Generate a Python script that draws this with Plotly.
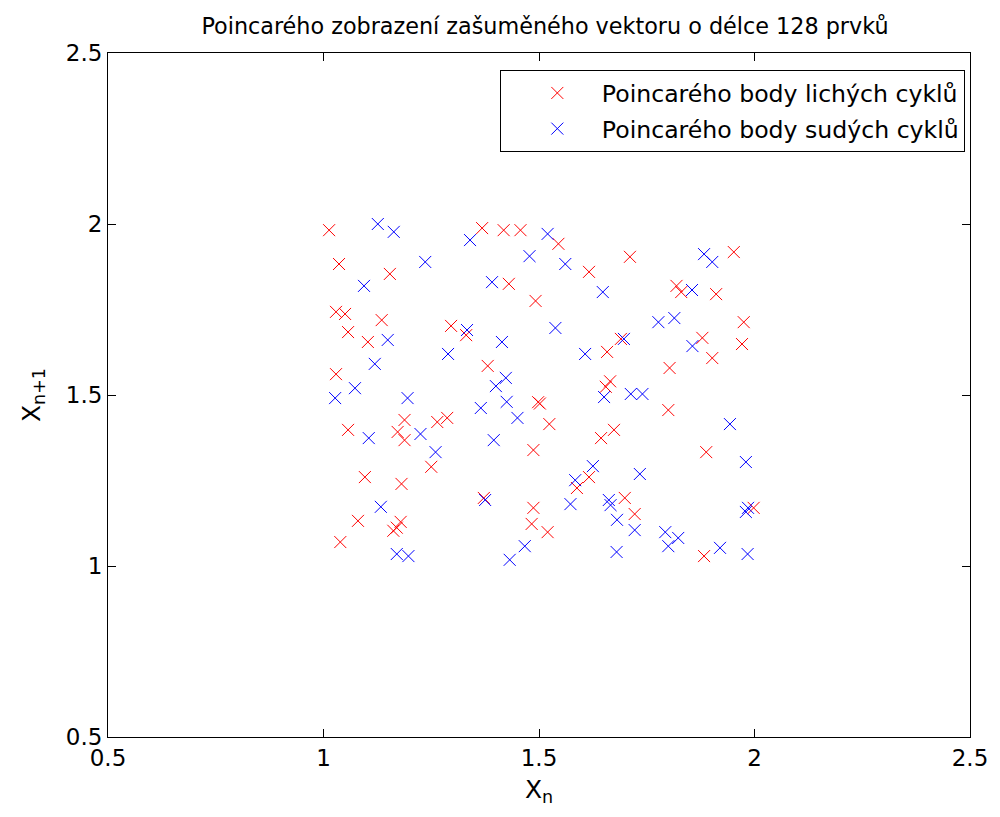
import plotly.graph_objects as go

# Poincaré points of the odd cycles (x_n, x_{n+1})
odd_x = [1.013, 1.036, 1.154, 1.029, 1.050, 1.135, 1.296, 1.368, 1.418, 1.457,
         1.545, 1.616, 1.430, 1.492, 1.711, 1.952, 1.819, 1.830, 1.911, 1.975,
         1.057, 1.103, 1.331, 1.029, 1.188, 1.264, 1.287, 1.057, 1.172, 1.188,
         1.658, 1.381, 1.665, 1.655, 1.498, 1.502, 1.524, 1.644, 1.674, 1.487,
         1.690, 1.879, 1.971, 1.902, 1.803, 1.800, 1.888, 1.250, 1.096, 1.181,
         1.080, 1.179, 1.162, 1.170, 1.039, 1.616, 1.588, 1.372, 1.487, 1.483,
         1.520, 1.699, 1.722, 1.883, 1.998]
odd_y = [1.982, 1.883, 1.854, 1.743, 1.737, 1.719, 1.702, 1.988, 1.982, 1.982,
         1.942, 1.860, 1.825, 1.775, 1.904, 1.918, 1.819, 1.801, 1.795, 1.713,
         1.684, 1.655, 1.675, 1.561, 1.427, 1.421, 1.433, 1.398, 1.392, 1.368,
         1.626, 1.585, 1.540, 1.524, 1.479, 1.475, 1.415, 1.374, 1.398, 1.339,
         1.664, 1.667, 1.649, 1.608, 1.579, 1.456, 1.333, 1.290, 1.260, 1.240,
         1.132, 1.129, 1.103, 1.112, 1.070, 1.260, 1.228, 1.199, 1.170, 1.123,
         1.099, 1.199, 1.152, 1.029, 1.170]

# Poincaré points of the even cycles
even_x = [1.126, 1.163, 1.236, 1.094, 1.340, 1.520, 1.478, 1.561, 1.391, 1.648,
          1.333, 1.538, 1.883, 1.902, 1.855, 1.777, 1.814, 1.149, 1.289, 1.119,
          1.073, 1.027, 1.195, 1.105, 1.225, 1.260, 1.414, 1.607, 1.423, 1.400,
          1.651, 1.365, 1.425, 1.450, 1.395, 1.697, 1.856, 1.713, 1.740, 1.943,
          1.133, 1.170, 1.197, 1.625, 1.584, 1.375, 1.573, 1.662, 1.666, 1.467,
          1.432, 1.681, 1.680, 1.980, 1.734, 1.722, 1.793, 1.823, 1.800, 1.920,
          1.984, 1.985, 1.980]
even_y = [2.000, 1.977, 1.889, 1.819, 1.953, 1.971, 1.906, 1.883, 1.830, 1.801,
          1.690, 1.696, 1.912, 1.889, 1.807, 1.713, 1.725, 1.661, 1.620, 1.591,
          1.520, 1.491, 1.491, 1.374, 1.386, 1.333, 1.655, 1.620, 1.550, 1.526,
          1.494, 1.462, 1.480, 1.433, 1.368, 1.664, 1.643, 1.503, 1.503, 1.415,
          1.173, 1.035, 1.029, 1.292, 1.251, 1.193, 1.181, 1.193, 1.178, 1.058,
          1.018, 1.135, 1.041, 1.304, 1.269, 1.105, 1.099, 1.082, 1.058, 1.053,
          1.035, 1.170, 1.158]

tick_vals = [0.5, 1.0, 1.5, 2.0, 2.5]
tick_text = ["0.5", "1", "1.5", "2", "2.5"]

FONT = "DejaVu Sans"

fig = go.Figure()
fig.add_trace(go.Scatter(
    x=odd_x, y=odd_y, mode="markers",
    name="Poincarého body lichých cyklů", legendgroup="odd",
    marker=dict(symbol="x-thin", size=12, color="#ff0000",
                line=dict(width=1, color="#ff0000")),
))
fig.add_trace(go.Scatter(
    x=even_x, y=even_y, mode="markers",
    name="Poincarého body sudých cyklů", legendgroup="even",
    marker=dict(symbol="x-thin", size=12, color="#0000ff",
                line=dict(width=1, color="#0000ff")),
))

axis_common = dict(
    range=[0.5, 2.5], tickvals=tick_vals, ticktext=tick_text,
    showgrid=False, zeroline=False, showline=True, linecolor="black",
    linewidth=1, mirror="allticks", ticks="inside", ticklen=8,
    tickcolor="black", tickfont=dict(family=FONT, size=23, color="black"),
)

fig.update_layout(
    width=1000, height=817,
    margin=dict(l=108, r=21, t=53, b=80),
    paper_bgcolor="white", plot_bgcolor="white",
    font=dict(family=FONT, color="black"),
    title=dict(text="Poincarého zobrazení zašuměného vektoru o délce 128 prvků",
               x=0.545, xanchor="center", y=0.968, yanchor="middle",
               font=dict(family=FONT, size=22.3, color="black")),
    xaxis=dict(**axis_common,
               title=dict(text="X<sub>n</sub>", standoff=10,
                          font=dict(family=FONT, size=25))),
    yaxis=dict(**axis_common,
               title=dict(text="X<sub>n+1</sub>", standoff=18,
                          font=dict(family=FONT, size=25))),
    legend=dict(x=0.994, xanchor="right", y=0.975, yanchor="top",
                bgcolor="white", bordercolor="black", borderwidth=1,
                font=dict(family=FONT, size=23.6, color="black"),
                itemwidth=79, indentation=12,
                traceorder="grouped", tracegroupgap=2),
    showlegend=True,
)

fig.write_html("out.html")
